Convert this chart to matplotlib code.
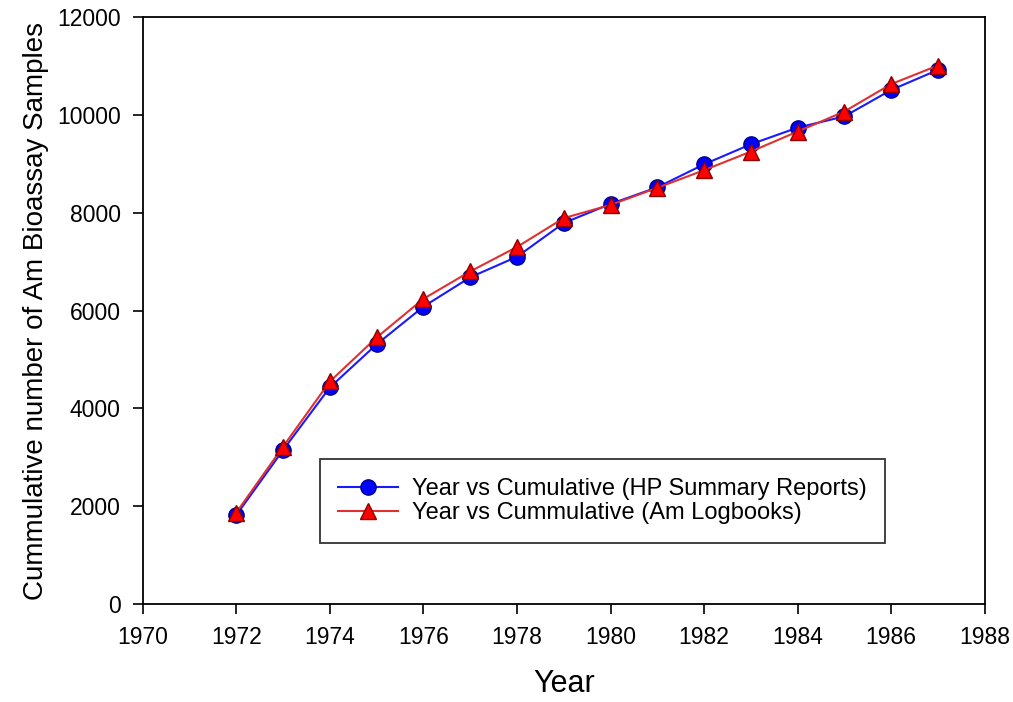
import numpy as np
import matplotlib.pyplot as plt

plt.rcParams['font.family'] = ['Liberation Sans', 'DejaVu Sans']

years = [1972, 1973, 1974, 1975, 1976, 1977, 1978, 1979,
         1980, 1981, 1982, 1983, 1984, 1985, 1986, 1987]
hp_reports = [1820, 3150, 4430, 5310, 6080, 6680, 7100, 7790,
              8180, 8520, 8990, 9400, 9740, 9970, 10510, 10920]
am_logbooks = [1870, 3220, 4550, 5450, 6240, 6800, 7300, 7890,
               8160, 8510, 8870, 9250, 9660, 10070, 10630, 11010]

fig = plt.figure(figsize=(10.13, 7.02), dpi=100)
ax = fig.add_axes([0.141, 0.1396, 0.831, 0.836])

ax.plot(years, hp_reports, color='#1a1aff', lw=1.5, marker='o', ms=11,
        mfc='#0000ff', mec='#00008b', mew=1,
        label='Year vs Cumulative (HP Summary Reports)')
ax.plot(years, am_logbooks, color='#e03030', lw=1.5, marker='^', ms=11,
        mfc='#ff0000', mec='#8b0000', mew=1,
        label='Year vs Cummulative (Am Logbooks)')

ax.set_xlim(1970, 1988)
ax.set_ylim(0, 12000)
ax.set_xticks(np.arange(1970, 1989, 2))
ax.set_yticks(np.arange(0, 12001, 2000))
ax.tick_params(labelsize=16.5, direction='out', length=7, width=1.2, pad=9)
for s in ax.spines.values():
    s.set_linewidth(1.3)

ax.set_xlabel('Year', fontsize=22, labelpad=14)
ax.set_ylabel('Cummulative number of Am Bioassay Samples', fontsize=20, labelpad=6)

leg = ax.legend(loc='center', bbox_to_anchor=(0.546, 0.175), fontsize=17,
                frameon=True, fancybox=False, edgecolor='black',
                handlelength=2.5, borderpad=0.8, labelspacing=0.1,
                handletextpad=0.6)
leg.get_frame().set_linewidth(1.3)

fig.savefig('out.png', dpi=100)
